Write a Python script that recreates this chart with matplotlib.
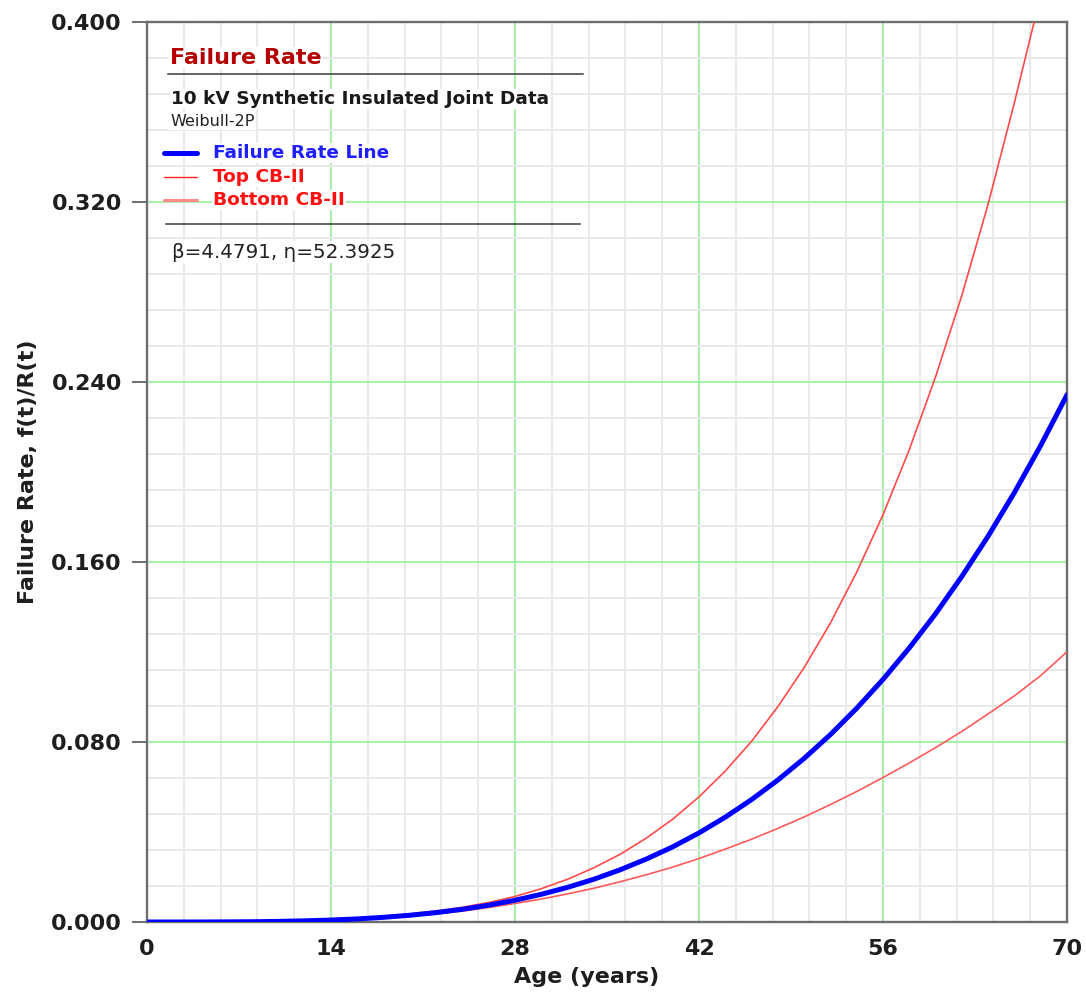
import matplotlib
matplotlib.use("Agg")
import matplotlib.pyplot as plt
from matplotlib.ticker import MultipleLocator, FormatStrFormatter
from matplotlib.lines import Line2D

# ---- data ----
age = [0, 2, 4, 6, 8, 10, 12, 14, 16, 18, 20, 22, 24, 26, 28, 30, 32, 34,
       36, 38, 40, 42, 44, 46, 48, 50, 52, 54, 56, 58, 60, 62, 64, 66, 68, 70]
failure_rate = [0.0, 0.0, 0.00001, 0.00005, 0.00012, 0.00027, 0.00051, 0.00087,
                0.00138, 0.00208, 0.00300, 0.00418, 0.00565, 0.00747, 0.00967,
                0.0123, 0.0154, 0.0190, 0.0232, 0.0280, 0.0334, 0.0396, 0.0466,
                0.0544, 0.0631, 0.0727, 0.0833, 0.0950, 0.1078, 0.1218, 0.1370,
                0.1536, 0.1715, 0.1909, 0.2118, 0.2343]
top_cb = [0.0, 0.0, 0.00002, 0.00008, 0.00020, 0.00042, 0.00073, 0.00117,
          0.00177, 0.00257, 0.00359, 0.00491, 0.00656, 0.00868, 0.01135,
          0.0148, 0.0190, 0.0241, 0.0301, 0.0373, 0.0457, 0.0556, 0.0671,
          0.0803, 0.0957, 0.1131, 0.1329, 0.1555, 0.1810, 0.2099, 0.2423,
          0.2785, 0.3191, 0.3642, 0.4120, 0.4650]
bottom_cb = [0.0, 0.0, 0.0, 0.00002, 0.00007, 0.00018, 0.00036, 0.00064,
             0.00107, 0.00169, 0.00251, 0.00356, 0.00486, 0.00643, 0.00824,
             0.0102, 0.0125, 0.0150, 0.0179, 0.0210, 0.0244, 0.0282, 0.0324,
             0.0368, 0.0416, 0.0467, 0.0522, 0.0580, 0.0642, 0.0707, 0.0775,
             0.0847, 0.0925, 0.1005, 0.1095, 0.1201]

x_ticks = [0, 14, 28, 42, 56, 70]
y_ticks = [0.000, 0.080, 0.160, 0.240, 0.320, 0.400]

title_text = "Failure Rate"
dataset_text = "10 kV Synthetic Insulated Joint Data"
model_text = "Weibull-2P"
legend_labels = ["Failure Rate Line", "Top CB-II", "Bottom CB-II"]
param_text = "\u03b2=4.4791, \u03b7=52.3925"
x_label = "Age (years)"
y_label = "Failure Rate, f(t)/R(t)"

# ---- figure ----
W, H = 1086, 996
fig = plt.figure(figsize=(W / 100, H / 100), dpi=100)
fig.patch.set_facecolor("white")

def fx(px):
    return px / W

def fy(py):
    return 1 - py / H

ax = fig.add_axes([fx(147), fy(922), fx(1067) - fx(147), fy(22) - fy(922)])
ax.set_xlim(0, 70)
ax.set_ylim(0, 0.4)

ax.set_xticks(x_ticks)
ax.set_yticks(y_ticks)
ax.xaxis.set_minor_locator(MultipleLocator(2.8))
ax.yaxis.set_minor_locator(MultipleLocator(0.016))
ax.yaxis.set_major_formatter(FormatStrFormatter("%.3f"))

ax.grid(which="minor", color="#E9E9E9", linewidth=1.4, zorder=0)
ax.grid(which="major", color="#8FEF8F", linewidth=1.1, zorder=1)
ax.set_axisbelow(True)

for s in ax.spines.values():
    s.set_color("#6E6E6E")
    s.set_linewidth(1.7)

ax.tick_params(axis="y", which="major", length=11, width=1.4, color="#6E6E6E",
               pad=7, labelsize=16)
ax.tick_params(axis="x", which="major", length=0, pad=12, labelsize=16)
ax.tick_params(which="minor", length=0)
for lab in ax.get_xticklabels() + ax.get_yticklabels():
    lab.set_fontweight("bold")
    lab.set_color("#1E1E1E")

ax.plot(age, top_cb, color="#FF4A4A", linewidth=1.2, zorder=3)
ax.plot(age, bottom_cb, color="#FF5A5A", linewidth=1.2, zorder=3)
ax.plot(age, failure_rate, color="#0000FF", linewidth=3.6, zorder=4,
        solid_capstyle="round")

ax.set_xlabel(x_label, fontsize=16, fontweight="bold", color="#1E1E1E")
ax.xaxis.set_label_coords(0.4783, -0.050)
ax.set_ylabel(y_label, fontsize=16, fontweight="bold", color="#1E1E1E")
ax.yaxis.set_label_coords(-0.118, 0.5)

# ---- annotation / legend block ----
bb = dict(facecolor="white", edgecolor="none", pad=1)
fig.text(fx(170), fy(58), title_text, fontsize=16, fontweight="bold",
         color="#B40000", va="center", ha="left", bbox=bb)
fig.add_artist(Line2D([fx(168), fx(583)], [fy(74), fy(74)], color="#3A3A3A",
                      linewidth=1.1))
fig.text(fx(171), fy(99), dataset_text, fontsize=13.3, fontweight="bold",
         color="#1A1A1A", va="center", ha="left", bbox=bb)
fig.text(fx(170), fy(121), model_text, fontsize=11.5, color="#222222",
         va="center", ha="left", bbox=bb)

leg_y = [153, 177, 200]
leg_colors = ["#0000FF", "#FF2020", "#FF8A8A"]
leg_lw = [3.6, 1.0, 2.2]
leg_text_colors = ["#1F1FFF", "#FF1010", "#FF1010"]
for yy, lc, lw, lab, tc in zip(leg_y, leg_colors, leg_lw, legend_labels,
                               leg_text_colors):
    fig.add_artist(Line2D([fx(164), fx(197)], [fy(yy), fy(yy)], color=lc,
                          linewidth=lw, solid_capstyle="round"))
    fig.text(fx(213), fy(yy), lab, fontsize=13.3, fontweight="bold", color=tc,
             va="center", ha="left", bbox=bb)

fig.add_artist(Line2D([fx(166), fx(580)], [fy(224), fy(224)], color="#3A3A3A",
                      linewidth=1.1))
fig.text(fx(172), fy(252), param_text, fontsize=14.3, color="#222222",
         va="center", ha="left", bbox=bb)

fig.savefig("out.png", dpi=100, facecolor="white")
